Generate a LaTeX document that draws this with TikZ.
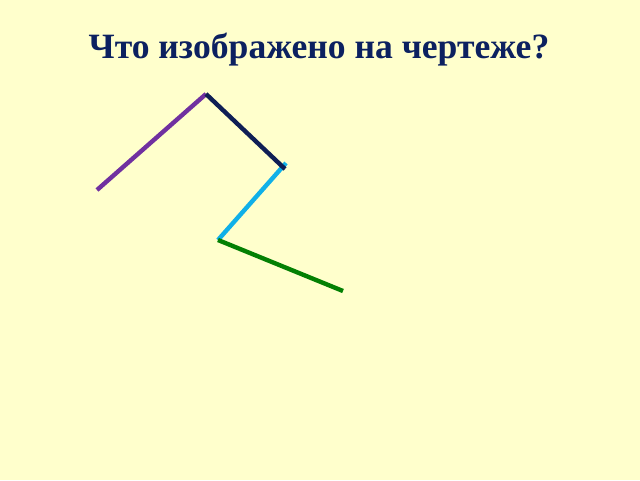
\documentclass[tikz,border=0pt]{standalone}
\usepackage{fontspec}
\setmainfont{Liberation Serif}
\usepackage{xcolor}
\usepackage{tikz}
\definecolor{paper}{HTML}{FFFFCC}
\definecolor{title}{HTML}{0C2160}
\definecolor{navy}{HTML}{0F1F55}
\definecolor{violet}{HTML}{7030A0}
\definecolor{sky}{HTML}{10B0E8}
\definecolor{grass}{HTML}{038003}
\tikzset{
  seg/.style={line width=4.4pt},
  nline/.style={seg, draw=navy},
  vline/.style={seg, draw=violet},
  sline/.style={seg, draw=sky},
  gline/.style={seg, draw=grass},
  ttl/.style={text=title, font=\fontsize{35.6}{40}\selectfont\bfseries}
}
\begin{document}
\begin{tikzpicture}[x=1pt, y=-1pt]
  \fill[paper] (0,0) rectangle (640,480);
  \useasboundingbox (0,0) rectangle (640,480);

  \coordinate (P) at (97,190);
  \coordinate (V) at (206,94);
  \coordinate (N) at (285,169);
  \coordinate (S) at (286,163);
  \coordinate (K) at (218,240);
  \coordinate (G) at (343,291);

  \draw[vline] (P)--(V);
  \draw[sline] (S)--(K);
  \draw[gline] (K)--(G);
  \draw[nline] (V)--(N);

  \node[ttl, anchor=base] (T) at (319,58) {Что изображено на чертеже?};
\end{tikzpicture}
\end{document}
